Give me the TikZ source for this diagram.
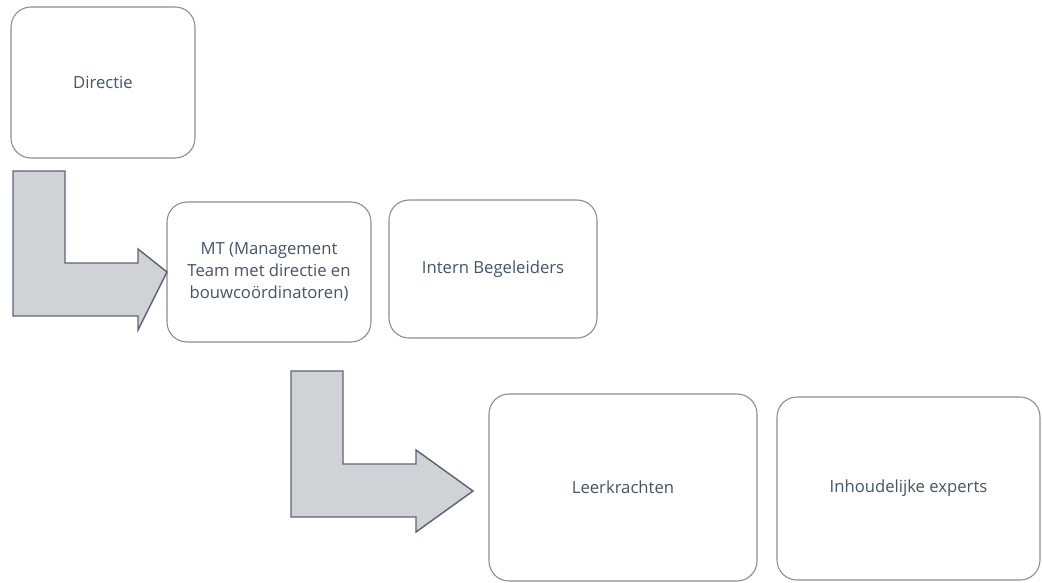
\documentclass[tikz,border=0pt]{standalone}
\usepackage{fontspec}
\setmainfont{Open Sans}
\definecolor{txt}{HTML}{44546A}
\definecolor{boxline}{HTML}{8C8C8C}
\definecolor{arrowfill}{HTML}{D0D2D6}
\definecolor{arrowline}{HTML}{5A6678}
\begin{document}
\begin{tikzpicture}[x=0.75pt,y=-0.75pt,
  card/.style={draw=boxline,line width=0.8pt,rounded corners=15pt,fill=white,
    text=txt,align=center,inner sep=0pt,outer sep=0pt,
    font=\fontsize{12.5}{16.3}\selectfont},
  bentarrow/.style={fill=arrowfill,draw=arrowline,line width=1.1pt,line join=miter}]
\useasboundingbox (0,0) rectangle (1042,582);
\node[card,minimum width=138pt,minimum height=113.25pt] (dir) at (103,82.5) {Directie};
\node[card,minimum width=153pt,minimum height=105pt] (mt) at (269,272)
  {MT (Management\\Team met directie en\\bouwcoördinatoren)};
\node[card,minimum width=156pt,minimum height=103.5pt] (ib) at (493,269) {Intern Begeleiders};
\node[card,minimum width=201pt,minimum height=140.25pt] (lk) at (623,487.5) {Leerkrachten};
\node[card,minimum width=197.25pt,minimum height=137.25pt] (ie) at (908.5,488.5) {Inhoudelijke experts};
% bent arrows
\draw[bentarrow] (13,171) -- (65,171) -- (65,263) -- (138,263) -- (138,249) -- (mt.west)
  -- (138,330) -- (138,316) -- (13,316) -- cycle;
\draw[bentarrow] (291,371) -- (343,371) -- (343,464) -- (416,464) -- (416,450) -- (473,491)
  -- (416,532) -- (416,517) -- (291,517) -- cycle;
\end{tikzpicture}
\end{document}
